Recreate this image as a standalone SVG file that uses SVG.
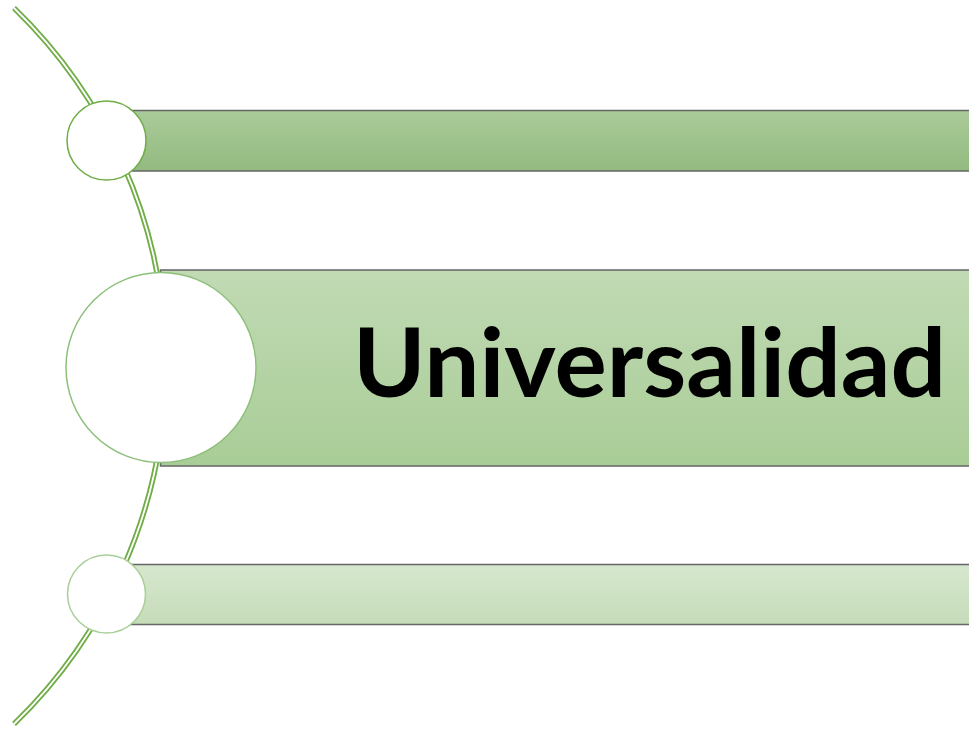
<svg xmlns="http://www.w3.org/2000/svg" width="969" height="729" viewBox="0 0 969 729">
  <defs>
    <linearGradient id="g1" x1="0" y1="0" x2="0" y2="1">
      <stop offset="0" stop-color="#AACB99"/>
      <stop offset="1" stop-color="#93BA80"/>
    </linearGradient>
    <linearGradient id="g2" x1="0" y1="0" x2="0" y2="1">
      <stop offset="0" stop-color="#C1DAB4"/>
      <stop offset="1" stop-color="#A9CD97"/>
    </linearGradient>
    <linearGradient id="g3" x1="0" y1="0" x2="0" y2="1">
      <stop offset="0" stop-color="#D6E7CE"/>
      <stop offset="1" stop-color="#C5DCB9"/>
    </linearGradient>
    <style>
      .bar { stroke: #666666; stroke-width: 1.5; }
      .arcOuter { fill: none; stroke: #70AD47; stroke-width: 5.5; }
      .arcInner { fill: none; stroke: #FFFFFF; stroke-width: 1.8; }
      .node { fill: #FFFFFF; stroke-width: 1.5; }
      .label { font-family: Lato, "Open Sans", "Liberation Sans", sans-serif; font-weight: bold; fill: #000000; }
    </style>
  </defs>
  <rect width="969" height="729" fill="#FFFFFF"/>
  <g id="connectors">
    <path class="arcOuter" d="M 14 8 A 498 498 0 0 1 14 724"/>
    <path class="arcInner" d="M 14 8 A 498 498 0 0 1 14 724"/>
  </g>
  <g id="bar-top">
    <rect class="bar" x="110" y="110.5" width="870" height="60.5" fill="url(#g1)"/>
  </g>
  <g id="bar-middle">
    <rect class="bar" x="160.5" y="270" width="820" height="196" fill="url(#g2)"/>
    <text class="label" transform="translate(353 397) scale(0.9 1)" x="0" y="0" font-size="95" textLength="659" lengthAdjust="spacingAndGlyphs">Universalidad</text>
  </g>
  <g id="bar-bottom">
    <rect class="bar" x="110" y="564.5" width="870" height="60" fill="url(#g3)"/>
  </g>
  <g id="node-top">
    <circle class="node" cx="106.5" cy="140.5" r="39.5" stroke="#70AD47"/>
  </g>
  <g id="node-middle">
    <circle class="node" cx="161" cy="367.5" r="95" stroke="#8DC07A"/>
  </g>
  <g id="node-bottom">
    <circle class="node" cx="106.5" cy="594" r="39" stroke="#A9CF98"/>
  </g>
</svg>
